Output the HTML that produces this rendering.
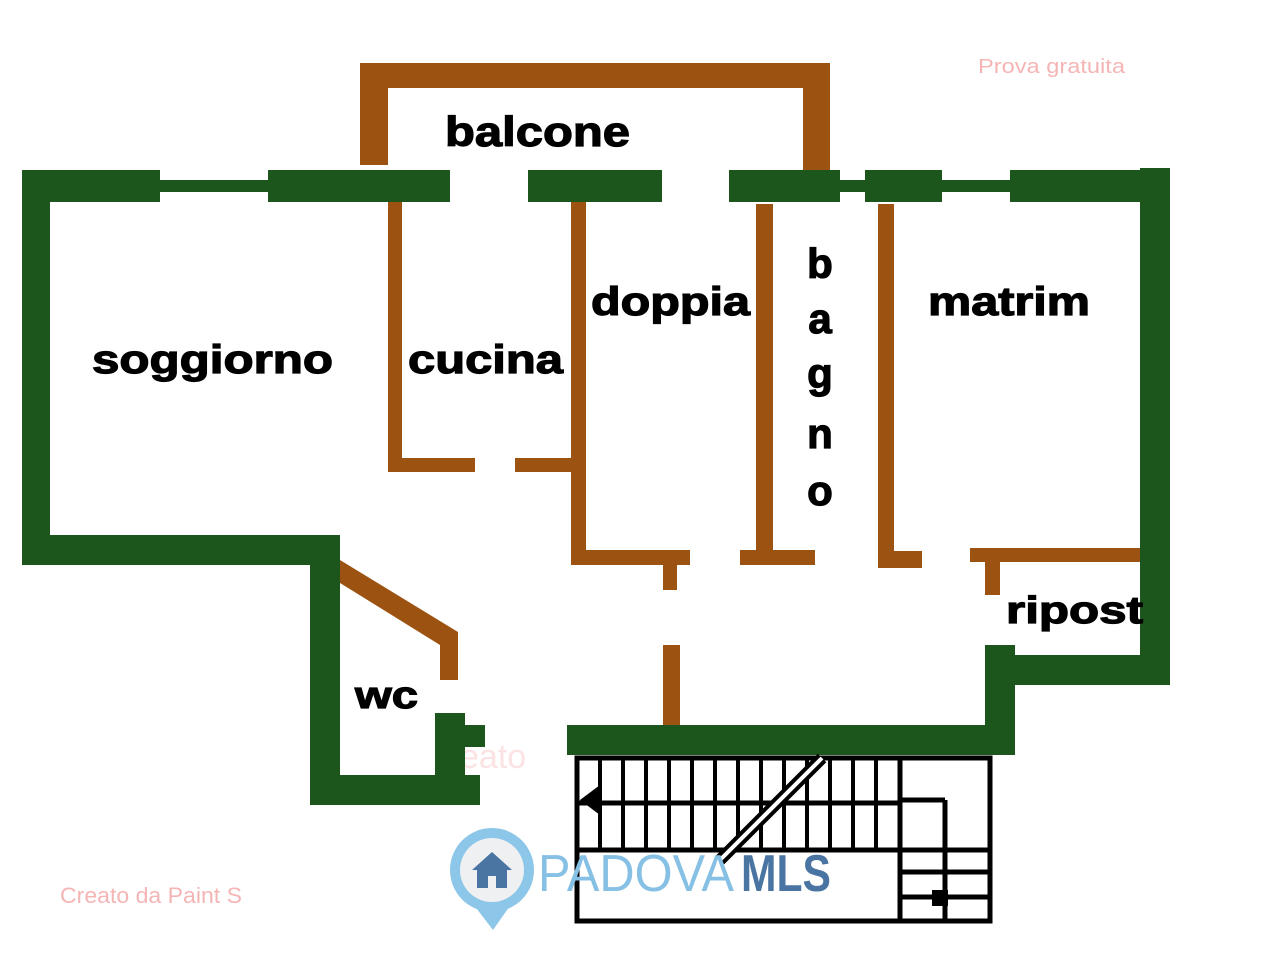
<!DOCTYPE html>
<html><head><meta charset="utf-8"><style>
html,body{margin:0;padding:0;background:#fff;}
svg{display:block;}
.t{font-family:"Liberation Sans",sans-serif;font-weight:bold;fill:#000;stroke:#000;stroke-width:1.2;}
</style></head><body>
<svg width="1280" height="960" viewBox="0 0 1280 960" xmlns="http://www.w3.org/2000/svg">
<rect width="1280" height="960" fill="#fff"/>
<!-- watermarks -->
<text x="978" y="73" font-family="Liberation Sans,sans-serif" font-size="20" fill="#f5b5b5" textLength="147" lengthAdjust="spacingAndGlyphs">Prova gratuita</text>
<text x="60" y="903" font-family="Liberation Sans,sans-serif" font-size="22" fill="#f5b5b5" textLength="182" lengthAdjust="spacingAndGlyphs">Creato da Paint S</text>
<text x="460" y="768" font-family="Liberation Sans,sans-serif" font-size="34" fill="#fbe3e3">eato</text>

<!-- brown walls -->
<g fill="#9c5312">
<rect x="360" y="63" width="470" height="25"/>
<rect x="360" y="63" width="28" height="102"/>
<rect x="803" y="63" width="27" height="108"/>
<rect x="388" y="202" width="14" height="270"/>
<rect x="388" y="458" width="87" height="14"/>
<rect x="515" y="458" width="70" height="14"/>
<rect x="571" y="202" width="15" height="363"/>
<rect x="571" y="550" width="119" height="15"/>
<rect x="663" y="550" width="14" height="40"/>
<rect x="756" y="204" width="17" height="361"/>
<rect x="740" y="550" width="75" height="15"/>
<rect x="878" y="204" width="16" height="362"/>
<rect x="878" y="551" width="44" height="17"/>
<rect x="970" y="548" width="175" height="14"/>
<rect x="985" y="555" width="15" height="40"/>
<rect x="663" y="645" width="17" height="80"/>
<polygon points="340,560 458,632 458,680 440,680 440,645 340,583"/>
</g>

<!-- green walls -->
<g fill="#1d561d">
<rect x="22" y="170" width="138" height="32"/>
<rect x="160" y="180" width="108" height="12"/>
<rect x="268" y="170" width="182" height="32"/>
<rect x="528" y="170" width="134" height="32"/>
<rect x="729" y="170" width="111" height="32"/>
<rect x="840" y="180" width="25" height="12"/>
<rect x="865" y="170" width="77" height="32"/>
<rect x="942" y="180" width="68" height="12"/>
<rect x="1010" y="170" width="160" height="32"/>
<rect x="1140" y="168" width="30" height="517"/>
<rect x="22" y="170" width="28" height="395"/>
<rect x="22" y="535" width="318" height="30"/>
<rect x="310" y="535" width="30" height="270"/>
<rect x="310" y="775" width="170" height="30"/>
<rect x="435" y="713" width="30" height="77"/>
<rect x="460" y="725" width="25" height="22"/>
<rect x="567" y="725" width="423" height="30"/>
<rect x="985" y="645" width="30" height="110"/>
<rect x="985" y="655" width="185" height="30"/>
</g>

<!-- stairs -->
<g stroke="#000" stroke-width="5" fill="none">
<rect x="577" y="758" width="413" height="163"/>
<line x1="577" y1="803" x2="900" y2="803"/>
<line x1="577" y1="850" x2="990" y2="850"/>
<line x1="900" y1="800" x2="945" y2="800"/>
<line x1="945" y1="800" x2="945" y2="850"/>
<line x1="900" y1="758" x2="900" y2="921"/>
<line x1="900" y1="872" x2="990" y2="872"/>
<line x1="900" y1="897" x2="990" y2="897"/>
<line x1="945" y1="850" x2="945" y2="921"/>
</g>
<g stroke="#000" stroke-width="4">
<line x1="600" y1="758" x2="600" y2="850"/>
<line x1="623" y1="758" x2="623" y2="850"/>
<line x1="646" y1="758" x2="646" y2="850"/>
<line x1="669" y1="758" x2="669" y2="850"/>
<line x1="692" y1="758" x2="692" y2="850"/>
<line x1="715" y1="758" x2="715" y2="850"/>
<line x1="738" y1="758" x2="738" y2="850"/>
<line x1="761" y1="758" x2="761" y2="850"/>
<line x1="784" y1="758" x2="784" y2="850"/>
<line x1="807" y1="758" x2="807" y2="850"/>
<line x1="830" y1="758" x2="830" y2="850"/>
<line x1="853" y1="758" x2="853" y2="850"/>
<line x1="876" y1="758" x2="876" y2="850"/>
</g>
<line x1="720" y1="860" x2="822" y2="758" stroke="#000" stroke-width="12"/>
<line x1="720" y1="860" x2="822" y2="758" stroke="#fff" stroke-width="4"/>
<polygon points="580,800 600,785 600,815" fill="#000"/>
<rect x="932" y="890" width="16" height="16" fill="#000"/>

<!-- logo -->
<circle cx="492" cy="870" r="42" fill="#8cc6e8"/>
<polygon points="470,900 514,900 493,930" fill="#8cc6e8"/>
<circle cx="492" cy="870" r="32" fill="#eef0f2"/>
<polygon points="472,870 492,852 512,870" fill="#4a74a2"/>
<rect x="477" y="868" width="30" height="20" fill="#4a74a2"/>
<rect x="488" y="876" width="8" height="12" fill="#eef0f2"/>
<text x="538" y="891" font-family="Liberation Sans,sans-serif" font-size="52" fill="#86c0e4" textLength="196" lengthAdjust="spacingAndGlyphs">PADOVA</text>
<text x="741" y="891" font-family="Liberation Sans,sans-serif" font-weight="bold" font-size="52" fill="#4a74a2" textLength="90" lengthAdjust="spacingAndGlyphs">MLS</text>

<!-- labels -->
<text class="t" x="445" y="146" font-size="42" textLength="185" lengthAdjust="spacingAndGlyphs">balcone</text>
<text class="t" x="92" y="373" font-size="40" textLength="241" lengthAdjust="spacingAndGlyphs">soggiorno</text>
<text class="t" x="408" y="373" font-size="40" textLength="155" lengthAdjust="spacingAndGlyphs">cucina</text>
<text class="t" x="591" y="315" font-size="40" textLength="159" lengthAdjust="spacingAndGlyphs">doppia</text>
<text class="t" x="928" y="315" font-size="40" textLength="162" lengthAdjust="spacingAndGlyphs">matrim</text>
<text class="t" x="1006" y="623" font-size="38" textLength="137" lengthAdjust="spacingAndGlyphs">ripost</text>
<text class="t" x="355" y="708" font-size="38" textLength="63" lengthAdjust="spacingAndGlyphs">wc</text>
<g class="t" font-size="42" text-anchor="middle">
<text x="820" y="278">b</text>
<text x="820" y="333">a</text>
<text x="820" y="388">g</text>
<text x="820" y="448">n</text>
<text x="820" y="505">o</text>
</g>
</svg>
</body></html>
